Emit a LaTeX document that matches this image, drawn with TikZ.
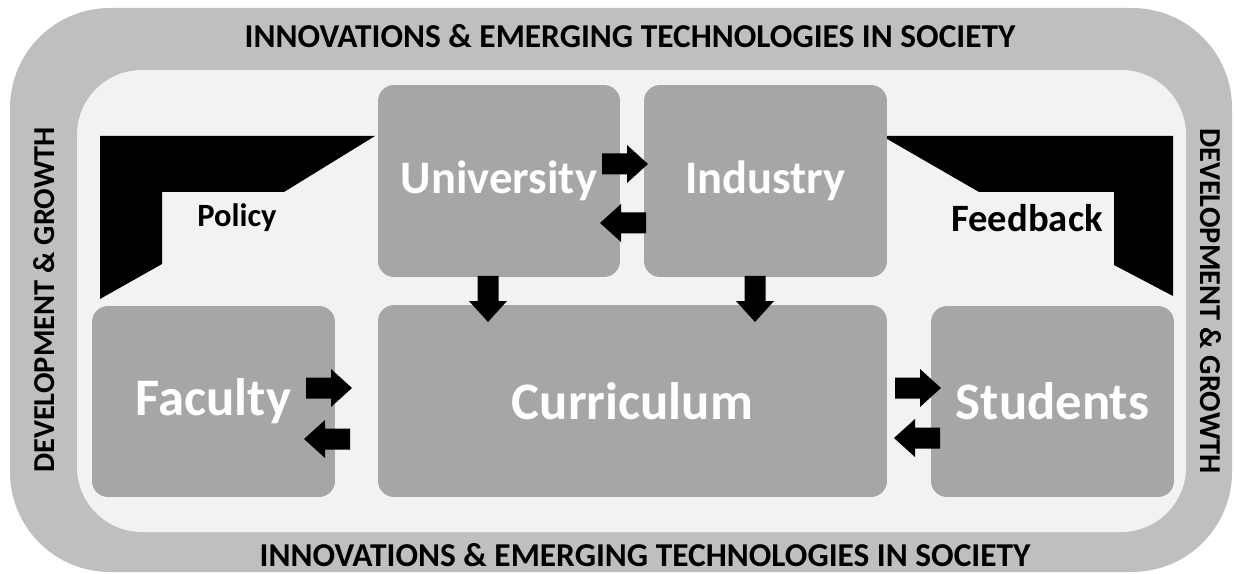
\documentclass[tikz,border=0pt]{standalone}
\usepackage{fontspec}
\setmainfont{Carlito}
\usetikzlibrary{calc}
\definecolor{bandgray}{HTML}{BFBFBF}
\definecolor{fieldgray}{HTML}{F2F2F2}
\definecolor{boxgray}{HTML}{A6A6A6}
\tikzset{
	box/.style={fill=boxgray, rounded corners=0.32cm, inner sep=0pt, text=white, font=\bfseries\fontsize{30}{30}\selectfont},
	bandtext/.style={inner sep=0pt, font=\bfseries\fontsize{19}{19}\selectfont},
	tag/.style={inner sep=0pt, font=\bfseries\fontsize{18.5}{18.5}\selectfont}
}
\def\blockarrow(#1)(#2){\fill[black, shift={(#1)}, rotate=#2] (0,0) -- (-21,19) -- (-21,10.5) -- (-46,10.5) -- (-46,-10.5) -- (-21,-10.5) -- (-21,-19) -- cycle;}

\begin{document}
\begin{tikzpicture}[x=0.02cm, y=-0.02cm]
			%%%%% START %%%%%
			\useasboundingbox (0,0) rectangle (1234,574);
			
			\fill[bandgray, rounded corners=2cm] (10,8) rectangle (1232,572);
			\fill[fieldgray, rounded corners=1.3cm] (77,70) rectangle (1186,532);
			
			\node[bandtext] (topband) at (630,36) {INNOVATIONS \& EMERGING TECHNOLOGIES IN SOCIETY};
			\node[bandtext] (botband) at (645,555) {INNOVATIONS \& EMERGING TECHNOLOGIES IN SOCIETY};
			\node[bandtext, rotate=90, font=\bfseries\fontsize{17.3}{17.3}\selectfont] (leftband) at (44,300) {DEVELOPMENT \& GROWTH};
			\node[bandtext, rotate=-90, font=\bfseries\fontsize{17.3}{17.3}\selectfont] (rightband) at (1211,301) {DEVELOPMENT \& GROWTH};
			
			% policy and feedback brackets
			\fill[black] (100,136) -- (375,136) -- (284,192) -- (162,192) -- (162,264) -- (100,299) -- cycle;
			\fill[black] (882,136) -- (1173,136) -- (1173,296) -- (1114,265) -- (1114,192) -- (979,192) -- cycle;
			\node[tag] (policy) at (237,218) {Policy};
			\node[tag, font=\bfseries\fontsize{22}{22}\selectfont] (feedback) at (1027,218) {Feedback};
			
			\node[box, minimum width=4.84cm, minimum height=3.84cm, font=\bfseries\fontsize{26.5}{26.5}\selectfont] (univ) at (499,181) {University};
			\node[box, minimum width=4.86cm, minimum height=3.84cm, font=\bfseries\fontsize{26.5}{26.5}\selectfont] (ind) at (765.5,181) {Industry};
			\node[box, minimum width=10.18cm, minimum height=3.84cm] (curr) at (632.5,401) {Curriculum};
			\node[box, minimum width=4.86cm, minimum height=3.82cm] (fac) at (213.5,401.5) {Faculty};
			\node[box, minimum width=4.86cm, minimum height=3.82cm] (stud) at (1052.5,401.5) {Students};
			
			\blockarrow(648,164)(0);
			\blockarrow(600,223)(180);
			\blockarrow(488,322)(-90);
			\blockarrow(755,322)(-90);
			\blockarrow(352,388)(0);
			\blockarrow(304,439)(180);
			\blockarrow(941,388)(0);
			\blockarrow(894,438)(180);
			%%%%% END %%%%%
\end{tikzpicture}
\end{document}
